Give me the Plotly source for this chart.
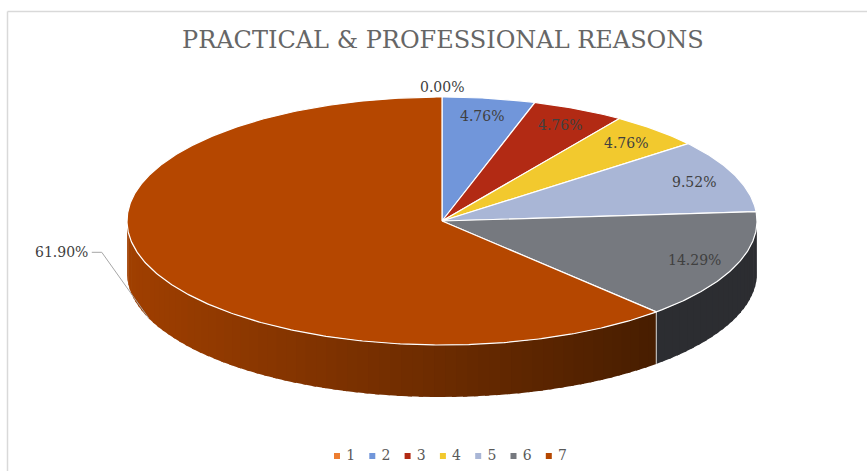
import math
import plotly.graph_objects as go

# Share of answers per reason category
categories = ["1", "2", "3", "4", "5", "6", "7"]
shares = [0.00, 4.76, 4.76, 4.76, 9.52, 14.29, 61.90]
top_colors = ["#ED7D31", "#7196DA", "#B22A14", "#F2C92E", "#A9B6D6", "#76797F", "#B54700"]
title_text = "PRACTICAL & PROFESSIONAL REASONS"

W, H = 867, 471
CX, CY = 442, 221          # centre of the pie's top face (px)
RX, RY = 315, 124          # semi-axes of the tilted top face
DEPTH = 52                 # thickness of the disc
LABEL_R = 0.86             # radial position of inside labels
FONT = "DejaVu Serif"
TEXT_GREY = "#404040"


def pt(theta_deg, r=1.0, dy=0.0):
    t = math.radians(theta_deg)
    return CX + RX * r * math.sin(t), CY - RY * r * math.cos(t) + dy


def arc(t0, t1, dy=0.0, step=1.0):
    n = max(2, int(math.ceil((t1 - t0) / step)) + 1)
    xs, ys = [], []
    for i in range(n):
        x, y = pt(t0 + (t1 - t0) * i / (n - 1), dy=dy)
        xs.append(x)
        ys.append(y)
    return xs, ys


def rgb(c):
    return f"rgb({int(round(c[0]))},{int(round(c[1]))},{int(round(c[2]))})"


total = sum(shares)
starts, ends = [], []
acc = 0.0
for v in shares:
    starts.append(acc / total * 360)
    acc += v
    ends.append(acc / total * 360)

fig = go.Figure()

# Side wall: only the front half (90..270 degrees) is visible.
# Strips overlap slightly so that no seams show between them.
side_base = {5: ((50, 51, 55), (44, 45, 49)), 6: ((160, 63, 0), (70, 29, 0))}
x_left, x_right = CX - RX, CX + RX * 0.7
for i in range(len(shares)):
    a0, a1 = max(starts[i], 90), min(ends[i], 270)
    if a1 <= a0:
        continue
    c_l, c_r = side_base.get(i, ((120, 120, 120), (60, 60, 60)))
    nstrip = max(1, int((a1 - a0) / 2))
    for k in range(nstrip):
        s0 = a0 + (a1 - a0) * k / nstrip
        s1 = min(a1, a0 + (a1 - a0) * (k + 1) / nstrip + 0.8)
        tx, ty = arc(s0, s1, step=0.5)
        bx, by = arc(s0, s1, dy=DEPTH, step=0.5)
        xm = (tx[0] + tx[-1]) / 2
        f = min(1, max(0, (xm - x_left) / (x_right - x_left)))
        col = rgb([c_l[j] + (c_r[j] - c_l[j]) * f for j in range(3)])
        fig.add_trace(go.Scatter(
            x=tx + bx[::-1] + [tx[0]], y=ty + by[::-1] + [ty[0]],
            mode="lines", fill="toself", fillcolor=col,
            line=dict(width=0),
            hoverinfo="skip", showlegend=False))

# Edges between slices on the side wall
for i in range(len(shares) - 1):
    a = ends[i]
    if 90 < a < 270:
        x0, y0 = pt(a)
        x1, y1 = pt(a, dy=DEPTH)
        fig.add_trace(go.Scatter(x=[x0, x1], y=[y0, y1], mode="lines",
                                 line=dict(color="#d0d0d0", width=1),
                                 hoverinfo="skip", showlegend=False))

# Top face wedges
for i, v in enumerate(shares):
    if ends[i] - starts[i] <= 0:
        continue
    xs, ys = arc(starts[i], ends[i], step=0.5)
    fig.add_trace(go.Scatter(
        x=[CX] + xs + [CX], y=[CY] + ys + [CY],
        mode="lines", fill="toself", fillcolor=top_colors[i],
        line=dict(color="white", width=1.2),
        hoverinfo="skip", showlegend=False))

# Data labels
big = max(range(len(shares)), key=lambda k: shares[k])
for i, v in enumerate(shares):
    mid = (starts[i] + ends[i]) / 2
    txt = f"{v:.2f}%"
    if v == 0:
        x, y = pt(mid, r=1.0)
        fig.add_annotation(x=x, y=y - 10, text=txt, showarrow=False,
                           font=dict(family=FONT, size=14, color=TEXT_GREY))
    elif i == big:
        ax, ay = pt(mid, dy=DEPTH)
        ex, ey = ax - 47, ay - 66
        fig.add_trace(go.Scatter(x=[ax, ex, ex - 10], y=[ay, ey, ey], mode="lines",
                                 line=dict(color="#a6a6a6", width=1),
                                 hoverinfo="skip", showlegend=False))
        fig.add_annotation(x=ex - 12, y=ey, text=txt, showarrow=False, xanchor="right",
                           font=dict(family=FONT, size=14, color=TEXT_GREY))
    else:
        x, y = pt(mid, r=LABEL_R)
        fig.add_annotation(x=x, y=y, text=txt, showarrow=False,
                           font=dict(family=FONT, size=14, color=TEXT_GREY))

# Legend row
LEG_X0, LEG_DX, LEG_Y = 337, 35.3, 456
fig.add_trace(go.Scatter(
    x=[LEG_X0 + k * LEG_DX for k in range(len(categories))],
    y=[LEG_Y] * len(categories),
    mode="markers+text", text=[" " + c for c in categories], textposition="middle right",
    marker=dict(symbol="square", size=6, color=top_colors),
    textfont=dict(family=FONT, size=14, color="#595959"),
    hoverinfo="skip", showlegend=False))

# Chart frame
fig.add_shape(type="line", x0=7.5, x1=W, y0=11.5, y1=11.5, line=dict(color="#d9d9d9", width=1.5))
fig.add_shape(type="line", x0=7.5, x1=7.5, y0=11.5, y1=H, line=dict(color="#d9d9d9", width=1.5))

fig.add_annotation(x=CX + 1, y=40, text=title_text, showarrow=False,
                   font=dict(family=FONT, size=24, color="#666666"))

fig.update_layout(
    width=W, height=H, autosize=False,
    margin=dict(l=0, r=0, t=0, b=0),
    paper_bgcolor="white", plot_bgcolor="white",
    xaxis=dict(range=[0, W], visible=False, fixedrange=True),
    yaxis=dict(range=[H, 0], visible=False, fixedrange=True),
)

fig.write_html("out.html")
